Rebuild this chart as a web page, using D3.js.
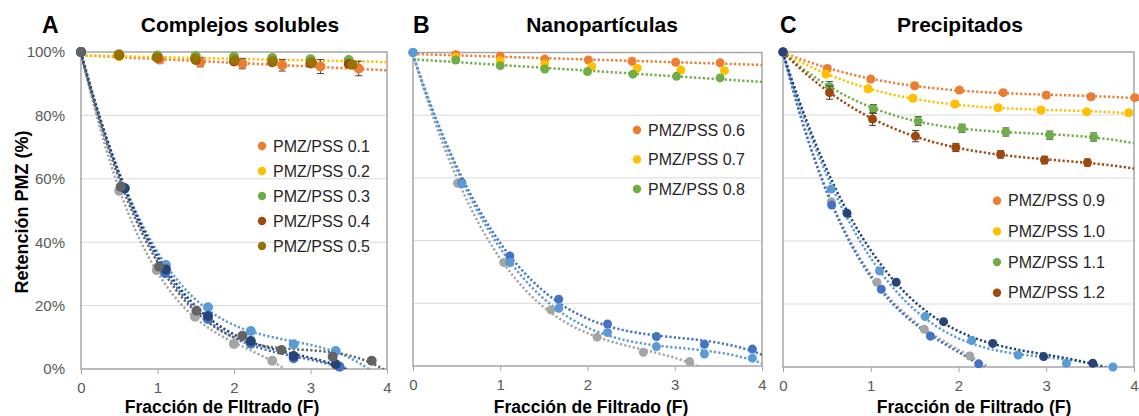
<!DOCTYPE html>
<html><head><meta charset="utf-8">
<script src="https://cdn.jsdelivr.net/npm/d3@7"></script>
<style>body{margin:0;background:#fff}svg{display:block}text{font-family:"Liberation Sans",Arial,sans-serif}</style>
</head><body><svg id="c" width="1139" height="416"></svg>
<script>
// ---------- DATA ----------
const xTicks = [0, 1, 2, 3, 4];
const yTicks = [0, 20, 40, 60, 80, 100];
const yTickLabels = ["0%", "20%", "40%", "60%", "80%", "100%"];
const panelLetters = ["A", "B", "C"];
const panelTitles = ["Complejos solubles", "Nanopartículas", "Precipitados"];
const xTitles = ["Fracción de FIltrado (F)", "Fracción de Filtrado (F)", "Fracción de Filtrado (F)"];
const yTitle = "Retención PMZ (%)";

// Panel A – retention of PMZ (legend series)
const a01F = [0.50, 1.03, 1.56, 2.11, 2.63, 3.13, 3.63];
const a01R = [98.8, 97.6, 96.8, 96.3, 95.8, 95.4, 94.8];
const a01E = [0.3, 0.5, 1.5, 1.6, 1.8, 2.2, 2.3];
const a02F = [0.50, 1.00, 1.50, 2.00, 2.50, 3.00, 3.50];
const a02R = [98.7, 98.4, 98.1, 97.8, 97.6, 97.4, 97.1];
const a03F = [0.50, 1.00, 1.50, 2.00, 2.50, 3.00, 3.50];
const a03R = [99.3, 98.9, 98.7, 98.5, 98.1, 97.7, 97.5];
const a04F = [0.50, 1.00, 1.50, 2.00, 2.50, 3.00, 3.50];
const a04R = [99.0, 98.2, 97.5, 97.0, 96.8, 96.4, 96.2];
const a05F = [0.49, 0.99, 1.49, 2.01, 2.51, 3.02, 3.55];
const a05R = [99.1, 98.3, 97.9, 97.4, 97.1, 96.7, 96.0];
// Panel A – descending series
const aLgF = [0, 0.50, 0.99, 1.49, 2.00, 2.50];
const aLgR = [100, 56.2, 31.2, 16.5, 7.9, 2.6];
const aDgF = [0, 0.52, 1.02, 1.51, 2.11, 2.62, 3.29, 3.80];
const aDgR = [100, 57.5, 32.3, 18.4, 10.5, 6.0, 3.9, 2.6];
const aBlF = [0, 0.57, 1.10, 1.66, 2.22, 2.78, 3.38];
const aBlR = [100, 57.0, 30.2, 15.8, 8.0, 3.4, 0.7];
const aLbF = [0, 0.57, 1.11, 1.66, 2.22, 2.78, 3.33];
const aLbR = [100, 57.0, 32.8, 19.5, 12.0, 7.8, 5.7];
const aDbF = [0, 0.57, 1.11, 1.66, 2.22, 2.78, 3.33];
const aDbR = [100, 57.0, 31.4, 16.7, 8.8, 4.1, 1.5];

// Panel B
const b06F = [0.49, 1.00, 1.51, 2.01, 2.51, 3.01, 3.52];
const b06R = [99.3, 98.8, 97.9, 97.6, 97.2, 96.9, 96.7];
const b07F = [0.49, 1.00, 1.51, 2.05, 2.57, 3.07, 3.57];
const b07R = [98.5, 97.4, 96.3, 95.5, 95.0, 94.4, 94.2];
const b08F = [0.49, 1.00, 1.51, 2.00, 2.52, 3.02, 3.52];
const b08R = [97.6, 95.8, 94.7, 93.9, 93.1, 92.4, 91.9];
const bGrF = [0, 0.51, 1.04, 1.58, 2.11, 2.64, 3.17];
const bGrR = [100, 58.3, 33.0, 17.9, 9.2, 4.4, 1.4];
const bBlF = [0, 0.56, 1.11, 1.67, 2.23, 2.79, 3.34, 3.89];
const bBlR = [100, 58.5, 35.1, 21.3, 13.4, 9.4, 6.9, 5.4];
const bLbF = [0, 0.56, 1.11, 1.67, 2.23, 2.79, 3.34, 3.89];
const bLbR = [100, 58.1, 33.0, 18.4, 10.7, 6.2, 3.8, 2.5];

// Panel C
const c09F = [0, 0.505, 1.00, 1.50, 2.01, 2.51, 3.00, 3.51, 4.01];
const c09R = [100, 94.8, 91.4, 89.3, 87.9, 87.1, 86.3, 85.8, 85.5];
const c09E = [0, 0.8, 0.8, 0.8, 0.8, 0.8, 0.9, 0.9, 0.8];
const c10F = [0, 0.49, 0.97, 1.48, 1.96, 2.45, 2.94, 3.46, 3.94];
const c10R = [100, 93.0, 88.3, 85.3, 83.5, 82.3, 81.6, 81.0, 80.7];
const c10E = [0, 0.7, 0.7, 0.7, 0.7, 0.7, 0.7, 0.7, 0.7];
const c11F = [0, 0.53, 1.03, 1.54, 2.04, 2.54, 3.04, 3.54];
const c11R = [100, 89.0, 81.9, 78.1, 75.8, 74.6, 73.6, 73.0];
const c11E = [0, 1.6, 1.4, 1.4, 1.3, 1.3, 1.3, 1.3];
const c12F = [0, 0.53, 1.02, 1.51, 1.97, 2.48, 2.98, 3.47];
const c12R = [100, 87.1, 78.7, 73.3, 69.7, 67.5, 65.7, 64.9];
const c12E = [0, 2.1, 2.0, 1.8, 1.3, 1.2, 1.2, 1.1];
const cLbF = [0, 0.55, 1.10, 1.62, 2.15, 2.68, 3.23, 3.76];
const cLbR = [100, 56.5, 30.5, 16.0, 8.4, 3.8, 1.2, 0.0];
const cGrF = [0, 0.55, 1.07, 1.61, 2.13];
const cGrR = [100, 52.5, 26.9, 12.0, 3.5];
const cBlF = [0, 0.555, 1.12, 1.68, 2.23];
const cBlR = [100, 51.4, 24.7, 9.8, 1.0];
const cDbF = [0, 0.73, 1.29, 1.83, 2.39, 2.97, 3.53];
const cDbR = [100, 48.8, 26.9, 14.4, 7.5, 3.3, 1.2];

const legendA = ["PMZ/PSS 0.1", "PMZ/PSS 0.2", "PMZ/PSS 0.3", "PMZ/PSS 0.4", "PMZ/PSS 0.5"];
const legendB = ["PMZ/PSS 0.6", "PMZ/PSS 0.7", "PMZ/PSS 0.8"];
const legendC = ["PMZ/PSS 0.9", "PMZ/PSS 1.0", "PMZ/PSS 1.1", "PMZ/PSS 1.2"];

// ---------- STYLE / LAYOUT ----------
const COL = {orange:"#ED7D31", yellow:"#FFC000", green:"#70AD47", brown:"#9E480E", olive:"#997300",
  lgrey:"#A5A5A5", dgrey:"#636363", blue:"#4472C4", lblue:"#5B9BD5", dblue:"#264478"};

function S(F, R, color, trend, E) { return {F, R, E, color, trend}; }

const panels = [
  { box:{l:81, r:387, t:52, b:369}, rad:5, letterX:42, titleX:240, xTitleX:222, yLabels:true,
    legend:{x:262, y:146, dy:25, names:legendA, colors:[COL.orange,COL.yellow,COL.green,COL.brown,COL.olive]},
    series:[
      S(aLgF,aLgR,COL.lgrey,"poly"), S(aBlF,aBlR,COL.blue,"poly"), S(aLbF,aLbR,COL.lblue,"poly"),
      S(aDbF,aDbR,COL.dblue,"poly"), S(aDgF,aDgR,COL.dgrey,"poly"),
      S(a01F,a01R,COL.orange,"lin",a01E), S(a02F,a02R,COL.yellow,"lin"), S(a03F,a03R,COL.green,null),
      S(a04F,a04R,COL.brown,null), S(a05F,a05R,COL.olive,null)
    ]},
  { box:{l:413, r:762, t:52.5, b:366}, rad:4.5, letterX:413, titleX:602, xTitleX:591, yLabels:false,
    legend:{x:637, y:130, dy:29.5, names:legendB, colors:[COL.orange,COL.yellow,COL.green]},
    series:[
      S(bGrF,bGrR,COL.lgrey,"poly"), S(bBlF,bBlR,COL.blue,"poly"), S(bLbF,bLbR,COL.lblue,"poly"),
      S(b06F,b06R,COL.orange,"lin"), S(b07F,b07R,COL.yellow,null), S(b08F,b08R,COL.green,"lin")
    ]},
  { box:{l:783, r:1134, t:52, b:367}, rad:4.5, letterX:780, titleX:960, xTitleX:974, yLabels:false,
    legend:{x:997, y:200.7, dy:30.7, names:legendC, colors:[COL.orange,COL.yellow,COL.green,COL.brown]},
    series:[
      S(c09F,c09R,COL.orange,"poly",c09E), S(c10F,c10R,COL.yellow,"poly",c10E),
      S(c11F,c11R,COL.green,"poly",c11E), S(c12F,c12R,COL.brown,"poly",c12E),
      S(cLbF,cLbR,COL.lblue,"poly"), S(cGrF,cGrR,COL.lgrey,"poly"), S(cBlF,cBlR,COL.blue,"poly"),
      S(cDbF,cDbR,COL.dblue,"poly")
    ]}
];

// least-squares polynomial fit
function polyfit(xs, ys, deg) {
  const n = deg + 1, A = [], b = [];
  for (let i = 0; i < n; i++) { A.push(new Array(n).fill(0)); b.push(0); }
  xs.forEach((x, k) => {
    for (let i = 0; i < n; i++) {
      b[i] += ys[k] * Math.pow(x, i);
      for (let j = 0; j < n; j++) A[i][j] += Math.pow(x, i + j);
    }
  });
  for (let c = 0; c < n; c++) {
    let p = c; for (let r = c + 1; r < n; r++) if (Math.abs(A[r][c]) > Math.abs(A[p][c])) p = r;
    [A[c], A[p]] = [A[p], A[c]]; [b[c], b[p]] = [b[p], b[c]];
    for (let r = 0; r < n; r++) if (r !== c) {
      const f = A[r][c] / A[c][c];
      for (let j = c; j < n; j++) A[r][j] -= f * A[c][j];
      b[r] -= f * b[c];
    }
  }
  const coef = b.map((v, i) => v / A[i][i]);
  return x => coef.reduce((s, c, i) => s + c * Math.pow(x, i), 0);
}

const svg = d3.select("#c");
svg.append("rect").attr("width", 1139).attr("height", 416).attr("fill", "#fff");

panels.forEach((p, pi) => {
  const bx = p.box;
  const x = d3.scaleLinear().domain([0, 4]).range([bx.l, bx.r]);
  const y = d3.scaleLinear().domain([0, 100]).range([bx.b, bx.t]);
  const g = svg.append("g");
  const clipId = "clip" + pi;
  svg.append("clipPath").attr("id", clipId).append("rect")
    .attr("x", bx.l).attr("y", bx.t - 1).attr("width", bx.r - bx.l).attr("height", bx.b - bx.t + 1);

  // gridlines
  g.selectAll(".grid").data(yTicks.filter(v => v > 0 && v < 100)).enter().append("line")
    .attr("x1", bx.l).attr("x2", bx.r).attr("y1", d => y(d)).attr("y2", d => y(d))
    .attr("stroke", "#d9d9d9").attr("stroke-width", 1);

  // frame
  g.append("rect").attr("x", bx.l).attr("y", bx.t).attr("width", bx.r - bx.l).attr("height", bx.b - bx.t)
    .attr("fill", "none").attr("stroke", "#a6a6a6").attr("stroke-width", 1.5);

  // x axis
  const xa = g.append("g").attr("transform", `translate(0,${bx.b})`)
    .call(d3.axisBottom(x).tickValues(xTicks).tickFormat(d3.format("d")).tickSize(5).tickPadding(8));
  xa.select(".domain").remove();
  xa.selectAll("line").attr("stroke", "#a6a6a6");
  xa.selectAll("text").attr("font-size", 15).attr("fill", "#595959");

  if (p.yLabels) {
    const ya = g.append("g").attr("transform", `translate(${bx.l},0)`)
      .call(d3.axisLeft(y).tickValues(yTicks).tickFormat((d, i) => yTickLabels[i]).tickSize(0).tickPadding(16));
    ya.select(".domain").remove();
    ya.selectAll("text").attr("font-size", 15).attr("fill", "#595959");
  }

  // trendlines
  const tg = g.append("g").attr("clip-path", `url(#${clipId})`);
  const samples = d3.range(0, 4.0001, 0.02);
  p.series.forEach(s => {
    if (!s.trend) return;
    const f = s.trend === "lin" ? polyfit(s.F, s.R, 1) : polyfit(s.F, s.R, 3);
    tg.append("path").datum(samples)
      .attr("d", d3.line().x(d => x(d)).y(d => y(f(d))))
      .attr("fill", "none").attr("stroke", s.color).attr("stroke-width", 2.5)
      .attr("stroke-dasharray", "2.2,2.2");
  });

  // error bars and points
  const pg = g.append("g");
  p.series.forEach(s => {
    if (s.E) {
      s.F.forEach((f, i) => {
        if (!s.E[i]) return;
        const cx = x(f), y1 = y(s.R[i] - s.E[i]), y2 = y(s.R[i] + s.E[i]);
        pg.append("line").attr("x1", cx).attr("x2", cx).attr("y1", y1).attr("y2", y2).attr("stroke", "#404040").attr("stroke-width", 1);
        [y1, y2].forEach(yy => pg.append("line").attr("x1", cx - 3.5).attr("x2", cx + 3.5).attr("y1", yy).attr("y2", yy).attr("stroke", "#404040").attr("stroke-width", 1));
      });
    }
    pg.selectAll(null).data(s.F.map((f, i) => [f, s.R[i]])).enter().append("circle")
      .attr("cx", d => x(d[0])).attr("cy", d => y(d[1])).attr("r", p.rad).attr("fill", s.color);
  });

  // legend
  const L = p.legend;
  L.names.forEach((n, i) => {
    g.append("circle").attr("cx", L.x).attr("cy", L.y + i * L.dy).attr("r", 4.2).attr("fill", L.colors[i]);
    g.append("text").attr("x", L.x + 11).attr("y", L.y + i * L.dy).attr("dy", "0.35em")
      .attr("font-size", 16).attr("fill", "#262626").text(n);
  });

  // titles
  g.append("text").attr("x", p.letterX).attr("y", 33).attr("font-size", 23).attr("font-weight", "bold").text(panelLetters[pi]);
  g.append("text").attr("x", p.titleX).attr("y", 32).attr("text-anchor", "middle").attr("font-size", 21).attr("font-weight", "bold").text(panelTitles[pi]);
  g.append("text").attr("x", p.xTitleX).attr("y", 413).attr("text-anchor", "middle").attr("font-size", 17.5).attr("font-weight", "bold").text(xTitles[pi]);
});

svg.append("text").attr("transform", "translate(28,212) rotate(-90)").attr("text-anchor", "middle")
  .attr("font-size", 18).attr("font-weight", "bold").text(yTitle);
</script></body></html>
